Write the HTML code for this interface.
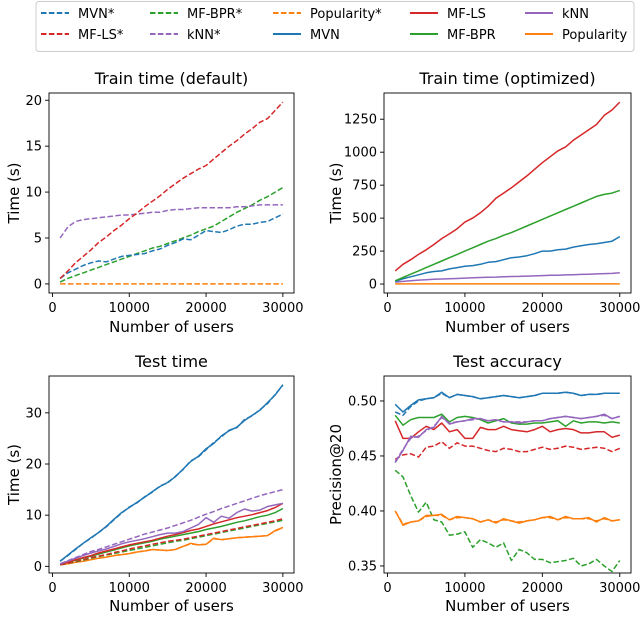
<!DOCTYPE html>
<html><head><meta charset="utf-8">
<style>
body{margin:0;background:#fff;font-family:"DejaVu Sans","Liberation Sans",sans-serif;}
svg text{font-family:"DejaVu Sans","Liberation Sans",sans-serif;fill:#000;}
</style></head>
<body>
<svg id="fig" width="640" height="613" viewBox="0 0 640 613" xmlns="http://www.w3.org/2000/svg"></svg>
<script>
const users=[1000,2000,3000,4000,5000,6000,7000,8000,9000,10000,11000,12000,13000,14000,15000,16000,17000,18000,19000,20000,21000,22000,23000,24000,25000,26000,27000,28000,29000,30000];
const xTicks=[0,10000,20000,30000];
// Panel 1: Train time (default)
const p1MVNs=[0.6,1.2,1.6,2.0,2.3,2.5,2.4,2.7,3.0,3.1,3.2,3.3,3.6,3.8,4.2,4.5,4.9,4.8,5.3,5.8,5.7,5.6,5.9,6.3,6.5,6.5,6.7,6.8,7.2,7.6];
const p1MFLSs=[0.6,1.4,2.3,3.0,3.7,4.5,5.1,5.8,6.4,7.1,7.7,8.4,9.0,9.6,10.3,10.9,11.5,12.0,12.5,12.9,13.6,14.3,15.0,15.6,16.3,16.9,17.6,18.0,18.9,19.8];
const p1BPRs=[0.2,0.6,0.9,1.2,1.5,1.8,2.1,2.4,2.7,3.0,3.3,3.6,3.9,4.1,4.4,4.7,5.0,5.3,5.7,6.0,6.3,6.8,7.3,7.8,8.2,8.6,9.1,9.5,10.0,10.5];
const p1KNNs=[5.0,6.2,6.8,7.0,7.1,7.2,7.3,7.4,7.5,7.5,7.6,7.7,7.8,7.8,8.0,8.1,8.1,8.2,8.3,8.3,8.3,8.3,8.3,8.4,8.4,8.5,8.6,8.6,8.6,8.6];
const p1Pops=[0,0,0,0,0,0,0,0,0,0,0,0,0,0,0,0,0,0,0,0,0,0,0,0,0,0,0,0,0,0];
const p1YTicks=[0,5,10,15,20];
// Panel 2: Train time (optimized)
const p2MFLS=[100,150,185,225,260,300,345,380,420,470,500,540,590,650,690,730,775,820,870,920,965,1010,1040,1090,1130,1170,1210,1280,1320,1380];
const p2BPR=[25,50,75,100,125,150,175,200,225,250,275,300,325,345,370,390,415,440,465,490,515,540,565,590,615,640,665,680,690,710];
const p2MVN=[20,40,55,70,85,95,100,115,125,135,140,150,165,170,185,200,205,215,230,250,250,260,265,280,290,300,305,315,325,360];
const p2KNN=[15,20,25,30,33,36,38,40,42,45,47,50,52,53,55,57,58,60,62,64,66,67,69,71,73,75,77,79,81,85];
const p2Pop=[1,1,1,1,1,1,1,1,1,1,1,1,1,1,1,1,1,1,1,1,1,1,1,1,1,1,1,1,1,1];
const p2YTicks=[0,250,500,750,1000,1250];
// Panel 3: Test time
const p3MVN=[1,2.2,3.4,4.5,5.6,6.6,7.8,9.2,10.5,11.5,12.5,13.5,14.6,15.6,16.4,17.5,19,20.5,21.5,23,24,25.5,26.5,27.2,28.5,29.5,30.5,32,33.5,35.5];
const p3MVNs=[1,2.1,3.3,4.5,5.5,6.6,7.7,9.1,10.4,11.6,12.4,13.6,14.5,15.7,16.3,17.6,18.9,20.6,21.4,22.8,24.2,25.3,26.6,27.1,28.7,29.4,30.6,31.8,33.6,35.4];
const p3KNNs=[0.5,1.1,1.7,2.3,2.9,3.3,3.8,4.3,4.8,5.3,5.8,6.3,6.7,7.1,7.5,8.0,8.5,9.0,9.6,10.2,10.7,11.3,11.8,12.3,12.8,13.3,13.8,14.2,14.6,15.0];
const p3KNN=[0.5,1.0,1.6,2.1,2.6,3.0,3.4,3.9,4.4,4.8,5.1,5.4,5.8,6.2,6.5,6.5,6.8,7.5,8.2,9.5,8.6,9.8,9.4,10.5,11.2,10.8,11.0,11.7,12.0,12.3];
const p3MFLS=[0.4,0.8,1.3,1.7,2.1,2.6,3.0,3.4,3.8,4.2,4.5,4.8,5.1,5.5,5.9,6.2,6.6,7.0,7.3,7.8,8.3,8.7,9.1,9.5,9.8,10.1,10.5,10.9,11.5,12.3];
const p3BPR=[0.4,0.8,1.2,1.6,2.0,2.4,2.8,3.2,3.6,4.0,4.3,4.6,4.9,5.3,5.6,5.9,6.2,6.5,6.8,7.2,7.5,7.8,8.2,8.6,8.9,9.3,9.7,10.0,10.5,11.3];
const p3MFLSs=[0.3,0.6,1.0,1.3,1.7,2.0,2.3,2.7,3.0,3.4,3.7,4.0,4.3,4.6,4.9,5.1,5.3,5.6,5.9,6.2,6.5,6.8,7.1,7.4,7.7,8.0,8.3,8.6,8.9,9.3];
const p3BPRs=[0.3,0.6,0.9,1.2,1.6,1.9,2.2,2.5,2.8,3.1,3.4,3.7,4.0,4.3,4.6,4.9,5.1,5.4,5.7,6.0,6.3,6.6,6.9,7.2,7.5,7.8,8.1,8.4,8.7,9.0];
const p3Pop=[0.3,0.5,0.8,1.0,1.3,1.6,1.8,2.1,2.3,2.5,2.8,3.0,3.3,3.2,3.1,3.3,3.9,4.5,4.2,4.3,5.5,5.2,5.4,5.6,5.7,5.8,5.9,6.0,7.0,7.6];
const p3Pops=[0.3,0.5,0.8,1.0,1.3,1.6,1.8,2.1,2.3,2.5,2.8,3.0,3.3,3.2,3.1,3.3,3.9,4.4,4.2,4.3,5.4,5.2,5.4,5.6,5.7,5.8,5.9,6.0,6.9,7.6];
const p3YTicks=[0,10,20,30];
// Panel 4: Test accuracy
const p4MVN=[.497,.490,.496,.501,.502,.503,.508,.503,.506,.505,.504,.502,.503,.504,.505,.504,.503,.504,.505,.507,.507,.507,.508,.507,.505,.506,.506,.507,.507,.507];
const p4MVNs=[.490,.487,.495,.500,.502,.503,.507,.503,.506,.505,.504,.502,.503,.504,.505,.504,.503,.504,.505,.507,.507,.507,.508,.507,.505,.506,.506,.507,.507,.507];
const p4BPR=[.487,.478,.483,.485,.485,.485,.488,.481,.485,.486,.485,.483,.480,.482,.484,.480,.479,.479,.480,.480,.481,.482,.477,.482,.480,.481,.481,.480,.481,.480];
const p4KNN=[.444,.455,.468,.467,.474,.476,.486,.479,.481,.482,.484,.484,.482,.483,.481,.481,.480,.481,.482,.482,.484,.485,.486,.485,.484,.485,.486,.488,.484,.486];
const p4KNNs=[.445,.456,.466,.468,.473,.477,.485,.480,.481,.482,.483,.484,.482,.483,.481,.481,.481,.481,.482,.482,.484,.485,.486,.485,.484,.485,.486,.487,.484,.486];
const p4MFLS=[.482,.466,.466,.472,.477,.474,.480,.472,.474,.466,.466,.476,.474,.474,.477,.474,.473,.472,.474,.477,.472,.474,.475,.474,.471,.471,.472,.472,.467,.469];
const p4MFLSs=[.447,.451,.452,.449,.458,.459,.463,.457,.462,.459,.459,.457,.455,.454,.457,.456,.454,.454,.456,.458,.456,.457,.459,.458,.456,.457,.458,.457,.454,.457];
const p4BPRs=[.437,.431,.414,.399,.408,.392,.390,.378,.379,.381,.367,.374,.371,.367,.371,.355,.365,.362,.356,.356,.353,.354,.355,.357,.350,.352,.356,.350,.345,.355];
const p4Pop=[.400,.387,.390,.391,.396,.396,.397,.392,.395,.394,.393,.390,.392,.389,.393,.391,.389,.391,.392,.394,.395,.392,.395,.393,.393,.394,.390,.394,.391,.392];
const p4Pops=[.400,.388,.390,.391,.395,.396,.396,.392,.394,.394,.393,.390,.392,.390,.392,.391,.390,.391,.392,.394,.394,.392,.394,.393,.393,.393,.391,.393,.391,.392];
const p4YTicks=[0.35,0.40,0.45,0.50];
const p4TickLabels=["0.35","0.40","0.45","0.50"];

const C={blue:"#1f77b4",orange:"#ff7f0e",green:"#2ca02c",red:"#d62728",purple:"#9467bd"};
const NS="http://www.w3.org/2000/svg";
const svg=document.getElementById('fig');
function mk(tag,attrs,parent){const e=document.createElementNS(NS,tag);for(const k in attrs)e.setAttribute(k,attrs[k]);(parent||svg).appendChild(e);return e;}

function panel(o){
  const g=mk('g',{});
  
  
  const xmin=-450,xmax=31450;
  const sx=v=>o.L+(v-xmin)/(xmax-xmin)*(o.R-o.L);
  const sy=v=>o.B-(v-o.ymin)/(o.ymax-o.ymin)*(o.B-o.T);
  o.series.forEach(s=>{
    const p=mk('polyline',{points:users.map((u,i)=>sx(u).toFixed(1)+','+sy(s.d[i]).toFixed(1)).join(' '),fill:'none',stroke:s.c,'stroke-width':1.5,'stroke-dasharray':s.dash?'5.5,2.4':'none','stroke-linejoin':'round'},g);
    
    
  });
  const box=mk('rect',{x:o.L,y:o.T,width:o.R-o.L,height:o.B-o.T,fill:'none',stroke:'#000','stroke-width':0.9},g);
  
  
  xTicks.forEach(t=>{
    const x=sx(t);
    mk('line',{x1:x,x2:x,y1:o.B,y2:o.B+4,stroke:'#000','stroke-width':0.9},g);
    const tx=mk('text',{x:x,y:o.B+19,'text-anchor':'middle','font-size':13},g);
    tx.textContent=t;
    
    
  });
  o.yt.forEach((t,i)=>{
    const y=sy(t);
    mk('line',{x1:o.L-4,x2:o.L,y1:y,y2:y,stroke:'#000','stroke-width':0.9},g);
    const tx=mk('text',{x:o.L-7,y:y+4.5,'text-anchor':'end','font-size':13},g);
    tx.textContent=o.ytl?o.ytl[i]:t;
    
    
  });
  const ti=mk('text',{x:(o.L+o.R)/2,y:o.T-9,'text-anchor':'middle','font-size':16},g);
  ti.textContent=o.title;
  
  
  const xl=mk('text',{x:(o.L+o.R)/2,y:o.B+o.xlo,'text-anchor':'middle','font-size':15},g);
  xl.textContent='Number of users';
  
  
  const yl=mk('text',{x:0,y:0,'text-anchor':'middle','font-size':15,transform:`translate(${o.ylx},${(o.T+o.B)/2}) rotate(-90)`},g);
  yl.textContent=o.ylabel;
  
  
}

panel({name:'train-time-default-panel',title:'Train time (default)',ylabel:'Time (s)',L:49,R:294,T:93,B:293,xlo:39,ymin:-0.99,ymax:20.79,yt:p1YTicks,ylx:19,
 series:[{d:p1Pops,c:C.orange,dash:1,n:'popularity-star-line'},{d:p1BPRs,c:C.green,dash:1,n:'mf-bpr-star-line'},{d:p1MVNs,c:C.blue,dash:1,n:'mvn-star-line'},{d:p1KNNs,c:C.purple,dash:1,n:'knn-star-line'},{d:p1MFLSs,c:C.red,dash:1,n:'mf-ls-star-line'}]});
panel({name:'train-time-optimized-panel',title:'Train time (optimized)',ylabel:'Time (s)',L:384,R:631,T:93,B:293,xlo:39,ymin:-67.9,ymax:1448.9,yt:p2YTicks,ylx:341,
 series:[{d:p2Pop,c:C.orange,n:'popularity-line'},{d:p2KNN,c:C.purple,n:'knn-line'},{d:p2MVN,c:C.blue,n:'mvn-line'},{d:p2BPR,c:C.green,n:'mf-bpr-line'},{d:p2MFLS,c:C.red,n:'mf-ls-line'}]});
panel({name:'test-time-panel',title:'Test time',ylabel:'Time (s)',L:49,R:294,T:376,B:573,xlo:38,ymin:-1.3,ymax:37.2,yt:p3YTicks,ylx:19,
 series:[{d:p3Pops,c:C.orange,dash:1,n:'popularity-star-line'},{d:p3Pop,c:C.orange,n:'popularity-line'},{d:p3BPRs,c:C.green,dash:1,n:'mf-bpr-star-line'},{d:p3MFLSs,c:C.red,dash:1,n:'mf-ls-star-line'},{d:p3BPR,c:C.green,n:'mf-bpr-line'},{d:p3MFLS,c:C.red,n:'mf-ls-line'},{d:p3KNN,c:C.purple,n:'knn-line'},{d:p3KNNs,c:C.purple,dash:1,n:'knn-star-line'},{d:p3MVNs,c:C.blue,dash:1,n:'mvn-star-line'},{d:p3MVN,c:C.blue,n:'mvn-line'}]});
panel({name:'test-accuracy-panel',title:'Test accuracy',ylabel:'Precision@20',L:384,R:631,T:376,B:573,xlo:38,ymin:0.3436,ymax:0.5227,yt:p4YTicks,ytl:p4TickLabels,ylx:341,
 series:[{d:p4BPRs,c:C.green,dash:1,n:'mf-bpr-star-line'},{d:p4Pops,c:C.orange,dash:1,n:'popularity-star-line'},{d:p4Pop,c:C.orange,n:'popularity-line'},{d:p4MFLSs,c:C.red,dash:1,n:'mf-ls-star-line'},{d:p4MFLS,c:C.red,n:'mf-ls-line'},{d:p4BPR,c:C.green,n:'mf-bpr-line'},{d:p4KNNs,c:C.purple,dash:1,n:'knn-star-line'},{d:p4KNN,c:C.purple,n:'knn-line'},{d:p4MVNs,c:C.blue,dash:1,n:'mvn-star-line'},{d:p4MVN,c:C.blue,n:'mvn-line'}]});

// Legend
const legNames=["MVN*","MF-BPR*","Popularity*","MF-LS","kNN","MF-LS*","kNN*","MVN","MF-BPR","Popularity"];
const legColors=[C.blue,C.green,C.orange,C.red,C.purple,C.red,C.purple,C.blue,C.green,C.orange];
const legDash=[1,1,1,0,0,1,1,0,0,0];
const lg=mk('g',{});


mk('rect',{x:36,y:1.5,width:598,height:50,rx:3,fill:'#fff',stroke:'#ccc','stroke-width':1},lg);
const colX=[41,150,273,410,525];
legNames.forEach((n,i)=>{
  const col=i%5,row=Math.floor(i/5);
  const x=colX[col],y=row?34:13;
  const eg=mk('g',{},lg);
  
  
  mk('line',{x1:x,x2:x+28,y1:y,y2:y,stroke:legColors[i],'stroke-width':2,'stroke-dasharray':legDash[i]?'5.5,2.4':'none'},eg);
  const t=mk('text',{x:x+37,y:y+5,'font-size':13},eg);
  t.textContent=n;
});
</script>
</body></html>
